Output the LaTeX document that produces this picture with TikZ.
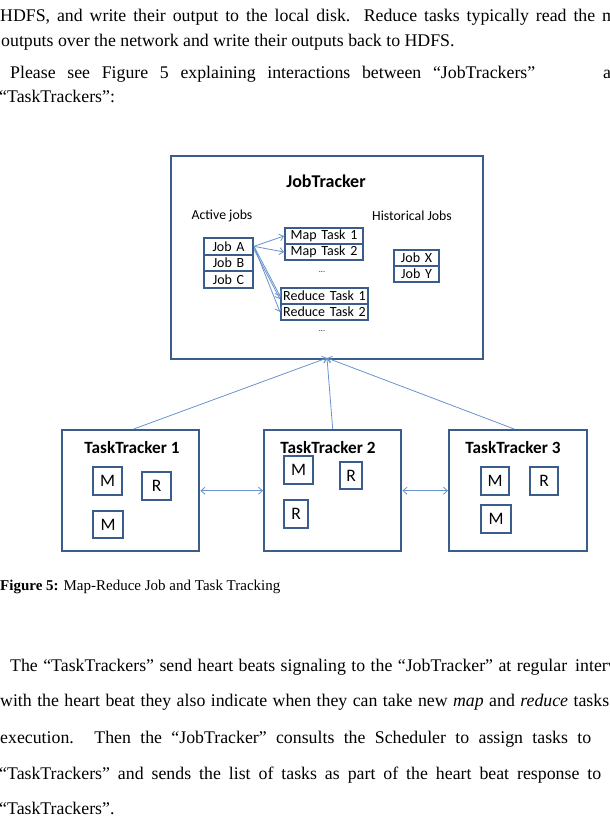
\documentclass[tikz,border=0pt]{standalone}
\usepackage{fontspec}
\setmainfont{Liberation Serif}
\newfontfamily\calfont{Carlito}
\usetikzlibrary{arrows.meta}
\definecolor{bcol}{HTML}{3A5D8B}
\definecolor{acol}{HTML}{6A92CC}
\begin{document}
\begin{tikzpicture}[x=1pt,y=-1pt,
  box/.style={draw=bcol, line width=2.4pt, fill=white, inner sep=0pt},
  row/.style={draw=bcol, line width=2pt, fill=white, inner xsep=2pt, inner ysep=0pt, minimum height=16.5pt, align=center, font=\calfont\fontsize{14}{14}\selectfont},
  mr/.style={draw=bcol, line width=2.2pt, fill=white, inner sep=0pt, font=\calfont\fontsize{17.5}{17.5}\selectfont},
  lab/.style={inner sep=0pt, font=\calfont\fontsize{13.8}{14}\selectfont},
  ttl/.style={inner sep=0pt, font=\calfont\bfseries\fontsize{17.2}{17.2}\selectfont},
  conn/.style={draw=acol, line width=0.8pt, -{Straight Barb[length=4pt,width=7pt]}},
  dconn/.style={draw=acol, line width=0.8pt, {Straight Barb[length=4pt,width=7pt]}-{Straight Barb[length=4pt,width=7pt]}},
  body/.style={inner sep=0pt, anchor=base west, font=\fontsize{17.8}{20}\selectfont},
  captext/.style={inner sep=0pt, anchor=base west, font=\fontsize{15}{17}\selectfont}
]
\useasboundingbox (0,0) rectangle (610,825);
\clip (0,0) rectangle (610,825);

% top text
\node[body] (l1) at (0,21) {\makebox[595pt][s]{HDFS, and write their output to the local disk. Reduce tasks typically read the}};
\node[body] (l1b) at (602,21) {m};
\node[body] (l2) at (1,46) {outputs over the network and write their outputs back to HDFS.};
\node[body] (l3) at (10,78) {\makebox[525pt][s]{Please see Figure 5 explaining interactions between “JobTrackers”}};
\node[body] (l3b) at (603,78) {a};
\node[body] (l4) at (-1,102) {“TaskTrackers”:};

% JobTracker
\node[box, minimum width=312pt, minimum height=203pt, anchor=north west] (jt) at (170,155) {};
\node[ttl, font=\calfont\bfseries\fontsize{18}{18}\selectfont] (jtt) at (326,181) {JobTracker};
\node[lab] (act) at (222,216) {Active jobs};
\node[lab] (hist) at (412,216) {Historical Jobs};

\node[row, text width=45pt, anchor=north west, minimum height=16.7pt] (ja) at (203,237) {Job A};
\node[row, text width=45pt, anchor=north west, minimum height=16.7pt] (jb) at (203,253.7) {Job B};
\node[row, text width=45pt, anchor=north west, minimum height=16.7pt] (jc) at (203,270.4) {Job C};

\node[row, text width=74pt, anchor=north west, minimum height=16pt] (mt1) at (284,227) {Map Task 1};
\node[row, text width=74pt, anchor=north west, minimum height=16pt] (mt2) at (284,243) {Map Task 2};
\node[lab, font=\calfont\fontsize{8}{8}\selectfont] (d1) at (322,272) {...};

\node[row, text width=83pt, anchor=north west, minimum height=16pt] (rt1) at (280,287) {Reduce Task 1};
\node[row, text width=83pt, anchor=north west, minimum height=16pt] (rt2) at (280,303) {Reduce Task 2};
\node[lab, font=\calfont\fontsize{8}{8}\selectfont] (d2) at (322,331) {...};

\node[row, text width=41pt, anchor=north west, minimum height=16pt] (jx) at (393,249) {Job X};
\node[row, text width=41pt, anchor=north west, minimum height=16pt] (jy) at (393,265) {Job Y};

\draw[conn] (ja.east) -- (mt1.west);
\draw[conn] (ja.east) -- (mt2.west);
\draw[conn] (ja.east) -- (rt1.west);
\draw[conn] ([yshift=-3pt]ja.east) -- ([yshift=-3pt]rt1.west);
\draw[conn] (ja.east) -- (rt2.west);

% TaskTrackers
\node[box, minimum width=137pt, minimum height=121pt, anchor=north west] (tt1) at (61,429) {};
\node[box, minimum width=137pt, minimum height=121pt, anchor=north west] (tt2) at (263,429) {};
\node[box, minimum width=138pt, minimum height=121pt, anchor=north west] (tt3) at (448,429) {};
\node[ttl] (tt1t) at (132,448) {TaskTracker 1};
\node[ttl] (tt2t) at (328,448) {TaskTracker 2};
\node[ttl] (tt3t) at (513,448) {TaskTracker 3};

\node[mr, minimum width=29pt, minimum height=28pt] (m11) at (107.5,481) {M};
\node[mr, minimum width=29pt, minimum height=28pt] (r11) at (156.5,486) {R};
\node[mr, minimum width=30pt, minimum height=27pt] (m12) at (108,524.5) {M};

\node[mr, minimum width=29pt, minimum height=28pt] (m21) at (298.5,470) {M};
\node[mr, minimum width=22pt, minimum height=27pt] (r21) at (351,475.5) {R};
\node[mr, minimum width=24pt, minimum height=28pt] (r22) at (296,514) {R};

\node[mr, minimum width=28pt, minimum height=28pt] (m31) at (495,481) {M};
\node[mr, minimum width=28pt, minimum height=28pt] (r31) at (544,481) {R};
\node[mr, minimum width=30pt, minimum height=28pt] (m32) at (496,519) {M};

\draw[dconn] (tt1.east) -- (tt2.west);
\draw[dconn] (tt2.east) -- (tt3.west);

\coordinate (jtb) at (327,358);
\draw[conn] ([xshift=3pt]tt1.north) -- (jtb);
\draw[conn] (tt2.north) -- (jtb);
\draw[conn] ([xshift=-4pt]tt3.north) -- (jtb);

% caption and bottom text
\node[captext] (capt) at (0,590) {\textbf{Figure 5:} Map-Reduce Job and Task Tracking};
\node[body] (ba) at (10,671) {\makebox[557pt][s]{The “TaskTrackers” send heart beats signaling to the “JobTracker” at regular}};
\node[body] (bab) at (575,671) {interv};
\node[body] (bb) at (0,706) {\makebox[609pt][s]{with the heart beat they also indicate when they can take new \emph{map} and \emph{reduce} tasks}};
\node[body] (bc) at (0,743) {\makebox[591pt][s]{execution. Then the “JobTracker” consults the Scheduler to assign tasks to}};
\node[body] (bd) at (-1,779) {\makebox[602pt][s]{“TaskTrackers” and sends the list of tasks as part of the heart beat response to}};
\node[body] (be) at (-1,814) {“TaskTrackers”.};
\end{tikzpicture}
\end{document}
